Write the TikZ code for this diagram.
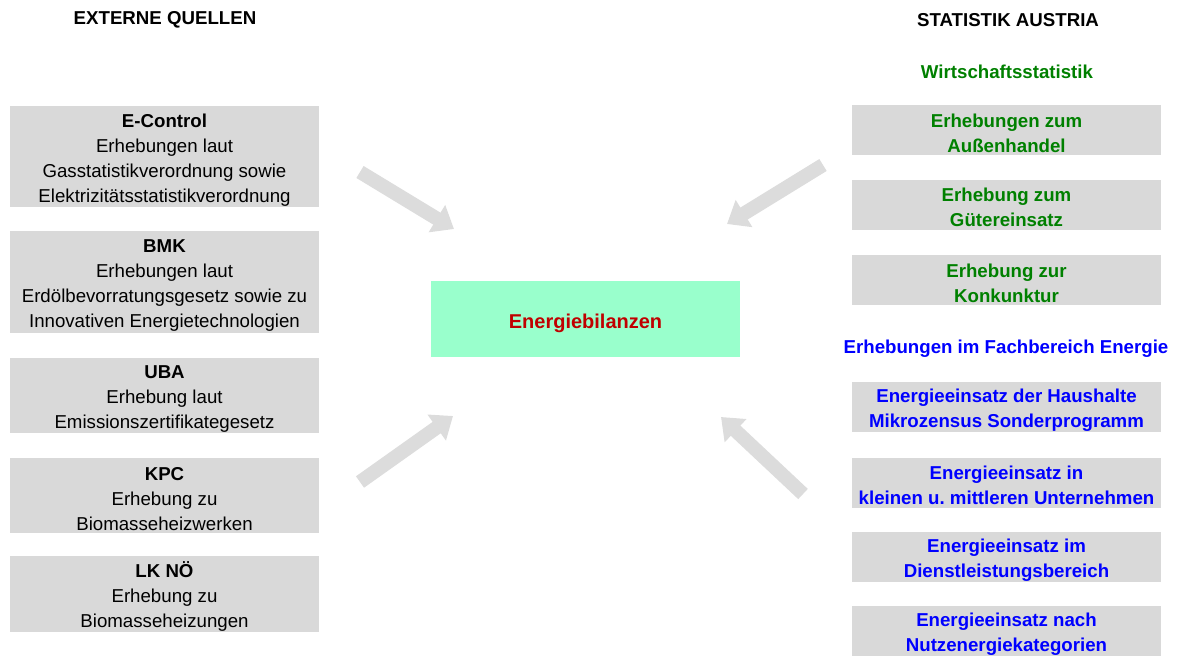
\documentclass[tikz,border=0pt]{standalone}
\usepackage{fontspec}
\setmainfont{Liberation Sans}
\usetikzlibrary{arrows.meta}
\definecolor{boxgray}{HTML}{D9D9D9}
\definecolor{arrowgray}{HTML}{DCDCDC}
\definecolor{hubgreen}{HTML}{99FFCC}
\definecolor{hubred}{HTML}{C00000}
\definecolor{wgreen}{HTML}{008000}
\definecolor{eblue}{HTML}{0000FF}
\newcommand{\topgap}{\rule{0pt}{15pt}}
\tikzset{
  srcbox/.style={fill=boxgray, inner sep=0pt, minimum width=231.75pt, align=center,
    font=\fontsize{14}{18.75}\selectfont},
  statbox/.style={srcbox, minimum height=37.5pt, font=\fontsize{14}{18.75}\selectfont\bfseries},
  heading/.style={inner sep=0pt, font=\fontsize{14}{18.75}\selectfont\bfseries},
  bigarrow/.style={draw=arrowgray, line width=10.5pt, -{Triangle[width=23pt,length=15pt]}}
}
\begin{document}
\begin{tikzpicture}[x=0.75pt,y=-0.75pt]
\useasboundingbox (0,0) rectangle (1181,657);

\coordinate (A1) at (360,172);
\coordinate (A2) at (454,229);
\coordinate (B1) at (823,165);
\coordinate (B2) at (727,224);
\coordinate (C1) at (360,482);
\coordinate (C2) at (453,416);
\coordinate (D1) at (803,494);
\coordinate (D2) at (721,417);

\node[heading] (extern) at (165,20) {EXTERNE QUELLEN};
\node[heading] (statat) at (1008,20) {STATISTIK AUSTRIA};
\node[heading, text=wgreen] (wirtschaft) at (1007,72) {Wirtschaftsstatistik};
\node[heading, text=eblue] (fachbereich) at (1006,349) {Erhebungen im Fachbereich Energie};

\node[srcbox, minimum height=75.75pt] (econtrol) at (164.5,156.5) {\topgap\textbf{E-Control}\\Erhebungen laut\\Gasstatistikverordnung sowie\\Elektrizitätsstatistikverordnung};
\node[srcbox, minimum height=76.5pt] (bmk) at (164.5,282) {\topgap\textbf{BMK}\\Erhebungen laut\\Erdölbevorratungsgesetz sowie zu\\Innovativen Energietechnologien};
\node[srcbox, minimum height=56.25pt] (uba) at (164.5,395.5) {\topgap\textbf{UBA}\\Erhebung laut\\Emissionszertifikategesetz};
\node[srcbox, minimum height=56.25pt] (kpc) at (164.5,495.5) {\topgap\textbf{KPC}\\Erhebung zu\\Biomasseheizwerken};
\node[srcbox, minimum height=57pt] (lkno) at (164.5,594) {\topgap\textbf{LK NÖ}\\Erhebung zu\\Biomasseheizungen};

\node[statbox, text=wgreen] (aussen) at (1006.5,130) {\topgap Erhebungen zum\\Außenhandel};
\node[statbox, text=wgreen] (gueter) at (1006.5,204.5) {\topgap Erhebung zum\\Gütereinsatz};
\node[statbox, text=wgreen] (konj) at (1006.5,280) {\topgap Erhebung zur\\Konkunktur};
\node[statbox, text=eblue] (haushalt) at (1006.5,407) {\topgap Energieeinsatz der Haushalte\\Mikrozensus Sonderprogramm};
\node[statbox, text=eblue] (kmu) at (1006.5,482.5) {\topgap Energieeinsatz in\\kleinen u.\ mittleren Unternehmen};
\node[statbox, text=eblue] (dienst) at (1006.5,557) {\topgap Energieeinsatz im\\Dienstleistungsbereich};
\node[statbox, text=eblue] (nutzen) at (1006.5,631) {\topgap Energieeinsatz nach\\Nutzenergiekategorien};

\node[fill=hubgreen, minimum width=231.75pt, minimum height=57pt, inner sep=0pt,
  text=hubred, font=\fontsize{15}{18}\selectfont\bfseries] (bilanz) at (585.5,319) {\rule{0pt}{17.5pt}Energiebilanzen};

\draw[bigarrow] (A1) -- (A2);
\draw[bigarrow] (B1) -- (B2);
\draw[bigarrow] (C1) -- (C2);
\draw[bigarrow] (D1) -- (D2);
\end{tikzpicture}
\end{document}
